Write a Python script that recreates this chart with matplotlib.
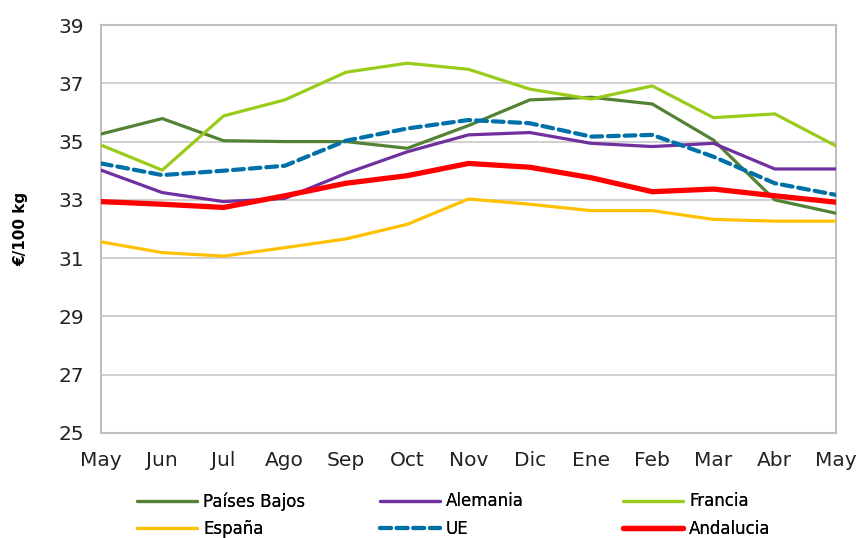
import matplotlib
matplotlib.use("Agg")
import matplotlib.pyplot as plt

months = ["May", "Jun", "Jul", "Ago", "Sep", "Oct", "Nov", "Dic", "Ene", "Feb", "Mar", "Abr", "May"]
paises_bajos = [35.26, 35.79, 35.03, 35.0, 35.0, 34.77, 35.55, 36.43, 36.52, 36.29, 35.05, 33.0, 32.54]
alemania = [34.02, 33.25, 32.94, 33.05, 33.91, 34.65, 35.23, 35.31, 34.94, 34.83, 34.94, 34.06, 34.06]
francia = [34.88, 34.02, 35.88, 36.43, 37.38, 37.69, 37.48, 36.80, 36.46, 36.91, 35.82, 35.95, 34.85]
espana = [31.56, 31.19, 31.07, 31.36, 31.66, 32.16, 33.03, 32.85, 32.63, 32.63, 32.33, 32.27, 32.27]
ue = [34.25, 33.85, 34.0, 34.17, 35.03, 35.45, 35.74, 35.63, 35.17, 35.23, 34.48, 33.57, 33.17]
andalucia = [32.94, 32.85, 32.74, 33.14, 33.57, 33.83, 34.25, 34.12, 33.76, 33.28, 33.37, 33.14, 32.92]
y_ticks = [25, 27, 29, 31, 33, 35, 37, 39]

plt.rcParams['font.family'] = ['DejaVu Sans']
fig = plt.figure(figsize=(8.61, 5.38), dpi=100)
ax = fig.add_axes([0.1173, 0.1952, 0.8537, 0.7583])

x = list(range(len(months)))
h_pb, = ax.plot(x, paises_bajos, color="#548235", lw=2.3, label="Países Bajos", zorder=3, solid_capstyle='round')
h_al, = ax.plot(x, alemania, color="#7030A0", lw=2.3, label="Alemania", zorder=3, solid_capstyle='round')
h_fr, = ax.plot(x, francia, color="#99CC1A", lw=2.3, label="Francia", zorder=3, solid_capstyle='round')
h_es, = ax.plot(x, espana, color="#FFC000", lw=2.3, label="España", zorder=3, solid_capstyle='round')
h_ue, = ax.plot(x, ue, color="#0070A8", lw=3.0, ls=(0, (2.6, 1.4)), label="UE", zorder=4, dash_capstyle='round')
h_an, = ax.plot(x, andalucia, color="#FF0000", lw=3.8, label="Andalucia", zorder=5, solid_capstyle='round')

ax.set_xlim(0, len(months) - 1)
ax.set_ylim(25, 39)
ax.set_yticks(y_ticks)
ax.set_xticks(x)
ax.set_xticklabels(months)
ax.tick_params(axis='both', labelsize=14.5, length=0, colors="#222222")
ax.tick_params(axis='x', pad=13)
ax.tick_params(axis='y', pad=12)
ax.grid(axis='y', color="#c8c8c8", lw=1.2)
ax.set_axisbelow(True)
for s in ax.spines.values():
    s.set_color("#bfbfbf")
    s.set_linewidth(1.5)

ax.set_ylabel("€/100 kg", fontsize=11, fontweight='bold', labelpad=22)

cols = [([h_pb, h_es], 0.159), ([h_al, h_ue], 0.4413), ([h_fr, h_an], 0.7236)]
for hs, xpos in cols:
    lg = fig.legend(hs, [h.get_label() for h in hs], loc='upper left',
                    bbox_to_anchor=(xpos, 0.0846), frameon=False, fontsize=12,
                    handlelength=3.6, handletextpad=0.36, labelspacing=0.55,
                    borderaxespad=0, borderpad=0)
    fig.add_artist(lg)

fig.savefig("out.png", dpi=100)
